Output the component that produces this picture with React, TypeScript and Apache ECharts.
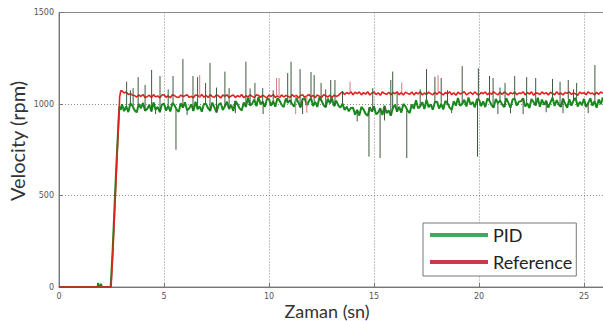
import React, { useEffect, useRef } from "react";
import * as echarts from "echarts";

// ---- data ----
const xTickLabels = ["0", "5", "10", "15", "20", "25"];
const yTickLabels = ["0", "500", "1000", "1500"];
const xTitle = "Zaman (sn)";
const yTitle = "Velocity (rpm)";

// start-up segment (time in s, velocity in rpm)
const pidRiseT = [0, 1.84, 1.86, 1.9, 1.96, 2.0, 2.04, 2.46, 2.55, 2.63, 2.71, 2.79, 2.87, 2.94];
const pidRiseV = [0, 0, 22, 3, 0, 18, 0, 0, 190, 400, 610, 800, 985, 968];
const refRiseT = [0, 2.48, 2.57, 2.65, 2.73, 2.81, 2.89, 2.94];
const refRiseV = [0, 0, 200, 410, 620, 830, 1040, 1072];

// sampled from t = 3.0 s every 0.1 s
const SAMPLE_START = 3.0;
const SAMPLE_STEP = 0.1;
const pidSamples = [
  999, 961, 987, 956, 1003, 990, 966, 954, 1001, 977,
  1006, 963, 973, 996, 959, 1009, 969, 984, 955, 997,
  1002, 964, 990, 959, 1006, 993, 969, 957, 1004, 980,
  1009, 966, 976, 999, 962, 1012, 972, 987, 958, 1000,
  1000, 977, 962, 1008, 982, 954, 996, 1005, 967, 988,
  1012, 973, 995, 962, 1016, 999, 976, 965, 1008, 984,
  1035, 992, 1002, 1025, 988, 1038, 998, 1013, 984, 1026,
  1028, 990, 1016, 985, 1032, 1019, 995, 983, 1030, 1006,
  1022, 1000, 985, 1034, 1008, 981, 1027, 1031, 993, 1015,
  1033, 989, 1012, 984, 1036, 1018, 993, 982, 1029, 1004,
  1030, 988, 1018, 992, 980, 1002, 968, 985, 960, 978,
  980, 942, 968, 937, 984, 971, 947, 935, 982, 958,
  987, 944, 954, 977, 940, 990, 950, 965, 936, 978,
  996, 958, 984, 953, 1000, 987, 963, 951, 998, 974,
  1020, 977, 987, 1010, 973, 1023, 983, 998, 969, 1011,
  1013, 975, 1001, 970, 1017, 1004, 980, 968, 1015, 991,
  1033, 990, 1000, 1023, 986, 1036, 996, 1011, 982, 1024,
  1026, 988, 1014, 983, 1030, 1017, 993, 981, 1028, 1004,
  1020, 998, 983, 1032, 1006, 979, 1025, 1029, 991, 1013,
  1015, 1031, 987, 1003, 978, 1027, 1010, 992, 1034, 985,
  1024, 995, 1018, 980, 1008, 1035, 989, 1021, 997, 984,
  1030, 1002, 979, 1026, 991, 1019, 1033, 986, 1012, 994,
  1028, 983, 1005, 1031, 990, 1016, 980, 1025, 999, 1036,
];
const refSamples = [
  1072, 1060, 1066, 1052, 1056, 1048, 1046, 1038, 1050, 1041,
  1052, 1036, 1040, 1048, 1035, 1051, 1039, 1044, 1034, 1049,
  1050, 1037, 1045, 1034, 1051, 1046, 1038, 1035, 1049, 1041,
  1045, 1050, 1036, 1042, 1034, 1049, 1047, 1038, 1052, 1037,
  1048, 1035, 1051, 1040, 1037, 1050, 1044, 1033, 1049, 1042,
  1051, 1036, 1044, 1049, 1035, 1046, 1039, 1052, 1034, 1045,
  1038, 1050, 1042, 1035, 1051, 1047, 1036, 1049, 1040, 1033,
  1049, 1041, 1052, 1036, 1045, 1034, 1050, 1038, 1047, 1043,
  1035, 1051, 1040, 1048, 1033, 1046, 1050, 1037, 1044, 1052,
  1039, 1047, 1034, 1050, 1042, 1036, 1051, 1045, 1038, 1048,
  1035, 1049, 1041, 1046, 1058, 1066, 1052, 1063, 1055, 1067,
  1051, 1064, 1057, 1066, 1050, 1062, 1054, 1067, 1049, 1060,
  1065, 1052, 1061, 1048, 1066, 1057, 1053, 1064, 1050, 1063,
  1056, 1067, 1051, 1062, 1049, 1065, 1058, 1053, 1066, 1050,
  1063, 1055, 1067, 1049, 1060, 1052, 1065, 1057, 1050, 1064,
  1053, 1066, 1058, 1050, 1063, 1056, 1067, 1051, 1061, 1048,
  1065, 1054, 1060, 1067, 1050, 1058, 1064, 1052, 1066, 1055,
  1049, 1063, 1056, 1066, 1051, 1061, 1053, 1067, 1057, 1050,
  1064, 1052, 1066, 1058, 1049, 1062, 1055, 1065, 1051, 1060,
  1057, 1067, 1050, 1063, 1054, 1066, 1048, 1061, 1059, 1052,
  1066, 1055, 1062, 1049, 1064, 1057, 1051, 1067, 1053, 1060,
  1050, 1063, 1058, 1066, 1052, 1061, 1055, 1048, 1065, 1057,
  1062, 1051, 1067, 1056, 1060, 1049, 1064, 1053, 1066, 1058,
];

// isolated glitches (time, peak value)
const pidSpikeT = [
  3.22, 3.4, 3.53, 3.77, 4.1, 4.41, 4.6, 4.81, 5.2, 5.43, 5.57, 5.9, 6.1, 6.38, 6.6, 6.98, 7.19,
  7.5, 7.9, 8.1, 8.4, 8.9, 9.1, 9.33, 9.7, 9.72, 10.2, 10.89, 11.05, 11.48, 11.6, 12.0, 12.15,
  12.48, 12.7, 12.94, 13.14, 13.5, 14.2, 14.76, 14.94, 15.29, 15.5, 15.8, 15.89, 16.1, 16.56,
  17.2, 17.5, 17.9, 18.2, 18.5, 18.7, 19.2, 19.93, 19.97, 20.5, 20.67, 20.9, 21.0, 21.24, 21.5,
  21.7, 22.1, 22.27, 22.7, 23.2, 23.5, 23.86, 24.0, 24.25, 24.5, 24.65, 25.2, 25.52,
];
const pidSpikeV = [
  1122, 1075, 1087, 1147, 1104, 1186, 945, 1153, 1080, 1153, 750, 1246, 940, 1153, 1147, 1115, 1224,
  1090, 1177, 1087, 950, 1231, 1085, 1115, 1087, 945, 1075, 1169, 1231, 1191, 945, 1175, 1158,
  1115, 1080, 1131, 1131, 1070, 905, 712, 1087, 705, 910, 1131, 1177, 1060, 705,
  1080, 1191, 1149, 1142, 1075, 950, 1207, 712, 1195, 1153, 1142, 945, 1090, 1115, 950,
  1153, 945, 1147, 1142, 955, 1137, 1122, 950, 1131, 1080, 1115, 950, 1213,
];
const refSpikeT = [6.7, 10.36, 10.48, 11.27, 11.8, 13.86, 16.32, 18.05];
const refSpikeV = [1158, 1142, 1142, 945, 952, 1122, 1117, 1158];

function sampleSeries(values: number[]) {
  return values.map((v, i) => [+(SAMPLE_START + i * SAMPLE_STEP).toFixed(2), v]);
}
function riseSeries(ts: number[], vs: number[]) {
  return ts.map((t, i) => [t, vs[i]]);
}
function spikeSeries(ts: number[], vs: number[], samples: number[]) {
  const out: any[] = [];
  ts.forEach((t, i) => {
    const idx = Math.min(samples.length - 1, Math.max(0, Math.round((t - SAMPLE_START) / SAMPLE_STEP)));
    out.push([t, samples[idx]], [t, vs[i]], [t, null]);
  });
  return out;
}

export default function App() {
  const ref = useRef<HTMLDivElement>(null);
  useEffect(() => {
    document.body.style.margin = "0";
    if (!ref.current) return;
    const chart = echarts.init(ref.current, undefined, { renderer: "svg" });
    const tickFont = { fontSize: 8, color: "#555", fontFamily: "DejaVu Sans" };
    const dotted = { type: [1, 2] as any, color: "#8a8a8a", width: 1 };
    const titleStyle = { fontSize: 18, fontFamily: "Lato", fill: "#333", align: "center", verticalAlign: "middle" };
    chart.setOption({
      animation: false,
      backgroundColor: "#ffffff",
      grid: {
        left: 59, top: 12.5, right: -2, bottom: 34,
        outerBoundsMode: "none", containLabel: false,
        show: true, borderColor: "#8a8a8a", borderWidth: 1, backgroundColor: "transparent",
      },
      graphic: [
        {
          type: "text", x: 17, y: 141, rotation: Math.PI / 2,
          style: { ...titleStyle, text: yTitle, fontSize: 20 },
        },
        {
          type: "text", x: 327, y: 310.5,
          style: { ...titleStyle, text: xTitle },
        },
      ],
      legend: {
        data: [
          { name: "PID", icon: "rect", itemStyle: { color: "#3dab5e" } },
          { name: "Reference", icon: "rect", itemStyle: { color: "#c9394a" } },
        ],
        orient: "vertical",
        left: 423, top: 223,
        itemWidth: 58, itemHeight: 4, itemGap: 9,
        padding: [3, 4, 5, 7],
        backgroundColor: "#ffffff",
        borderColor: "#777", borderWidth: 1, borderRadius: 0,
        textStyle: { fontSize: 18, fontFamily: "Lato", color: "#222" },
      },
      xAxis: {
        type: "value", min: 0, max: 26, interval: 5,
        axisLine: { lineStyle: { color: "#777", width: 1 } },
        axisTick: { inside: true, length: 4, lineStyle: { color: "#777" } },
        axisLabel: {
          ...tickFont, margin: 5, showMaxLabel: false,
          formatter: (v: number) => xTickLabels[Math.round(v / 5)] ?? "",
        },
        splitLine: { show: true, lineStyle: dotted },
      },
      yAxis: {
        type: "value", min: 0, max: 1500, interval: 500,
        axisLine: { show: true, lineStyle: { color: "#777", width: 1 } },
        axisTick: { show: true, inside: true, length: 4, lineStyle: { color: "#777" } },
        axisLabel: {
          ...tickFont, margin: 5,
          formatter: (v: number) => yTickLabels[Math.round(v / 500)] ?? "",
        },
        splitLine: { show: true, lineStyle: dotted },
      },
      series: [
        {
          name: "PID", type: "line", showSymbol: false, symbol: "none",
          data: [...riseSeries(pidRiseT, pidRiseV), ...sampleSeries(pidSamples)],
          lineStyle: { color: "#178a1c", width: 2 }, itemStyle: { color: "#178a1c" },
          z: 2,
        },
        {
          name: "Reference", type: "line", showSymbol: false, symbol: "none",
          data: [...riseSeries(refRiseT, refRiseV), ...sampleSeries(refSamples)],
          lineStyle: { color: "#e0221e", width: 1.6 }, itemStyle: { color: "#e0221e" },
          z: 3,
        },
        {
          name: "PID", type: "line", showSymbol: false, symbol: "none", connectNulls: false,
          data: spikeSeries(pidSpikeT, pidSpikeV, pidSamples),
          lineStyle: { color: "#3d5a3d", width: 1 }, itemStyle: { color: "#3d5a3d" },
          z: 4,
        },
        {
          name: "Reference", type: "line", showSymbol: false, symbol: "none", connectNulls: false,
          data: spikeSeries(refSpikeT, refSpikeV, refSamples),
          lineStyle: { color: "#d87a80", width: 1 }, itemStyle: { color: "#d87a80" },
          z: 4,
        },
      ],
    });
    return () => chart.dispose();
  }, []);
  return <div ref={ref} style={{ width: 603, height: 321 }} />;
}
